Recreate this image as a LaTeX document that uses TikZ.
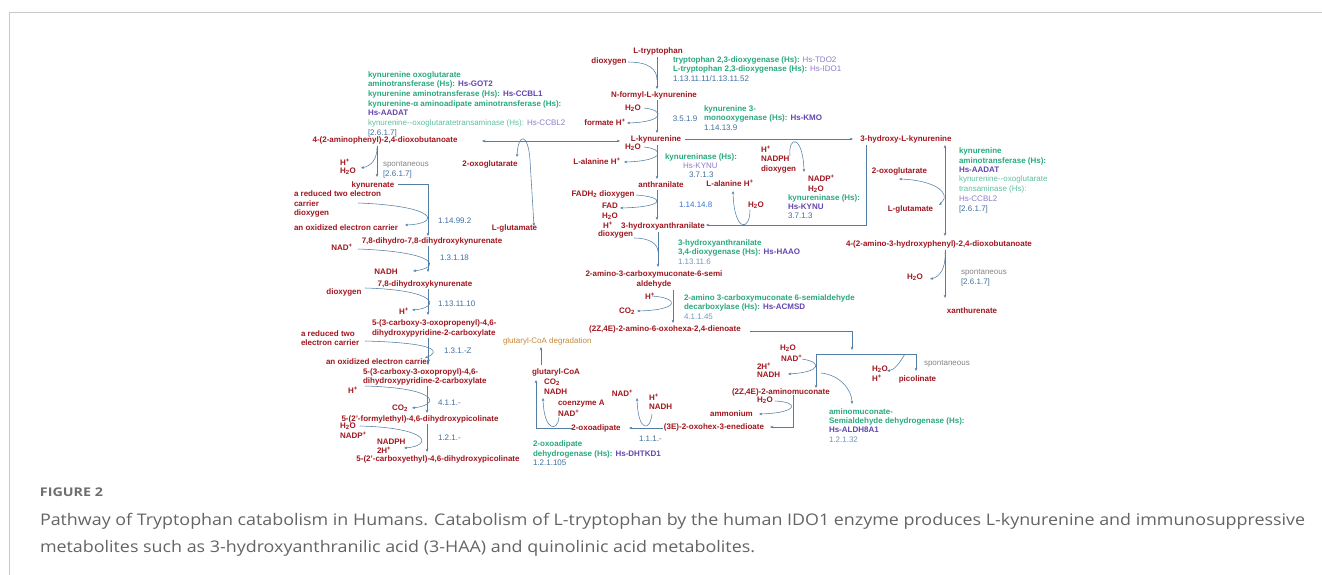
\documentclass[tikz,border=0pt]{standalone}
\usepackage{fontspec}
\usepackage{graphicx}
\setmainfont{Liberation Sans}
\newfontfamily\capfont{Open Sans}
\usetikzlibrary{arrows.meta}
\definecolor{met}{RGB}{160,22,30}
\definecolor{enz}{RGB}{40,168,126}
\definecolor{enzl}{RGB}{95,192,158}
\definecolor{gene}{RGB}{98,68,176}
\definecolor{genel}{RGB}{142,122,204}
\definecolor{ec}{RGB}{62,110,160}
\definecolor{ecl}{RGB}{112,150,192}
\definecolor{ecb}{RGB}{52,112,220}
\definecolor{spg}{RGB}{132,132,132}
\definecolor{org}{RGB}{200,136,52}
\definecolor{lnc}{RGB}{82,126,166}
\definecolor{frame}{RGB}{200,200,200}
\definecolor{capg}{RGB}{100,100,100}
\definecolor{figg}{RGB}{110,110,110}
\newcommand\HtwoO{H\textsubscript{2}O}
\newcommand\Hplus{H\textsuperscript{+}}
\newcommand\NADplus{NAD\textsuperscript{+}}
\newcommand\NADPplus{NADP\textsuperscript{+}}
\newcommand\COtwo{CO\textsubscript{2}}
\tikzset{
  every node/.style={inner sep=0pt,outer sep=0pt},
  m/.style={text=met,font=\fontsize{8}{9.7}\selectfont\bfseries},
  e/.style={text=enz,font=\fontsize{8}{9.7}\selectfont\bfseries},
  el/.style={text=enzl,font=\fontsize{8}{9.7}\selectfont},
  g/.style={text=gene,font=\fontsize{8}{9.7}\selectfont\bfseries},
  gl/.style={text=genel,font=\fontsize{8}{9.7}\selectfont},
  ecn/.style={text=ec,font=\fontsize{8}{9.7}\selectfont},
  ecln/.style={text=ecl,font=\fontsize{8}{9.7}\selectfont},
  ecbn/.style={text=ecb,font=\fontsize{8}{9.7}\selectfont},
  sp/.style={text=spg,font=\fontsize{8}{9.7}\selectfont},
  og/.style={text=org,font=\fontsize{8}{9.7}\selectfont},
  arr/.style={draw=lnc,line width=0.55pt,-{Stealth[length=3.2pt,width=2.6pt]}},
  arrb/.style={draw=lnc,line width=0.55pt,{Stealth[length=3.2pt,width=2.6pt]}-{Stealth[length=3.2pt,width=2.6pt]}},
  ln/.style={draw=lnc,line width=0.55pt},
}
\begin{document}
\begin{tikzpicture}[x=1pt,y=-1pt]
\useasboundingbox (0,0) rectangle (1322,575);
\draw[frame,line width=0.9pt] (9.5,575) -- (9.5,12) -- (1322,12);

% ---------- central column ----------
\node[m] (trp) at (658,51) {L-tryptophan};
\node[m] (dioxA) at (609,61) {dioxygen};
\node[e,anchor=west] (tdo) at (673,60) {tryptophan 2,3-dioxygenase (Hs): \textcolor{genel}{\mdseries Hs-TDO2}};
\node[e,anchor=west] (ido) at (673,69) {L-tryptophan 2,3-dioxygenase (Hs): \textcolor{genel}{\mdseries Hs-IDO1}};
\node[ecn,anchor=west] (ec1) at (673,79) {1.13.11.11/1.13.11.52};
\node[m] (nfk) at (654,95) {N-formyl-L-kynurenine};
\node[m] (h2oA) at (633,108) {\HtwoO};
\node[m] (form) at (605,122) {formate \Hplus};
\node[ecn] (ec2) at (685,119) {3.5.1.9};
\node[e,anchor=west] (kmo1) at (704,109) {kynurenine 3-};
\node[e,anchor=west] (kmo2) at (704,118) {monooxygenase (Hs): \textcolor{gene}{Hs-KMO}};
\node[ecn,anchor=west] (ec3) at (704,128) {1.14.13.9};
\node[m] (lkyn) at (656,139) {L-kynurenine};
\node[m] (h2oB) at (633,147) {\HtwoO};
\node[m] (alaA) at (597,161) {L-alanine \Hplus};
\node[e,anchor=west] (kynu1) at (665,157) {kynureninase (Hs):};
\node[gl,anchor=west] (kynu1g) at (683,166) {Hs-KYNU};
\node[ecn,anchor=west] (ec4) at (689,175) {3.7.1.3};
\node[m] (anth) at (661,185) {anthranilate};
\node[m] (alaB) at (730,183) {L-alanine \Hplus};
\node[m,anchor=west] (hB) at (761,149) {\Hplus};
\node[m,anchor=west] (nadph) at (761,159) {NADPH};
\node[m,anchor=west] (dioxB) at (761,169) {dioxygen};
\node[m,anchor=west] (nadpB) at (808,178) {\NADPplus};
\node[m,anchor=west] (h2oC) at (808,189) {\HtwoO};
\node[e,anchor=west] (kynu2) at (788,198) {kynureninase (Hs):};
\node[g,anchor=west] (kynu2g) at (788,207) {Hs-KYNU};
\node[ecn,anchor=west] (ec5) at (788,216) {3.7.1.3};
\node[m] (fadh) at (603,194) {FADH\textsubscript{2} dioxygen};
\node[m,anchor=west] (fad) at (602,206) {FAD};
\node[m,anchor=west] (h2oD) at (602,216) {\HtwoO};
\node[m,anchor=west] (hD) at (603,225) {\Hplus};
\node[m,anchor=west] (dioxD) at (598,234) {dioxygen};
\node[ecbn,anchor=west] (ec6) at (679,205) {1.14.14.8};
\node[m,anchor=west] (h2oE) at (748,205) {\HtwoO};
\node[m] (haa) at (663,226) {3-hydroxyanthranilate};
\node[e,anchor=west] (haao1) at (678,243) {3-hydroxyanthranilate};
\node[e,anchor=west] (haao2) at (678,252) {3,4-dioxygenase (Hs): \textcolor{gene}{Hs-HAAO}};
\node[ecln,anchor=west] (ec7) at (678,262) {1.13.11.6};
\node[m] (acms1) at (654,274) {2-amino-3-carboxymuconate-6-semi};
\node[m] (acms2) at (654,284) {aldehyde};
\node[m,anchor=west] (hE) at (645,296) {\Hplus};
\node[m,anchor=west] (co2E) at (619,311) {\COtwo};
\node[e,anchor=west] (acmsd1) at (684,298) {2-amino 3-carboxymuconate 6-semialdehyde};
\node[e,anchor=west] (acmsd2) at (684,307) {decarboxylase (Hs): \textcolor{gene}{Hs-ACMSD}};
\node[ecln,anchor=west] (ec8) at (684,317) {4.1.1.45};
\node[m] (dien) at (665,329) {(2Z,4E)-2-amino-6-oxohexa-2,4-dienoate};

% ---------- right branch ----------
\node[m] (hk) at (906,139) {3-hydroxy-L-kynurenine};
\node[e,anchor=west] (aat1) at (959,151) {kynurenine};
\node[e,anchor=west] (aat2) at (959,161) {aminotransferase (Hs):};
\node[g,anchor=west] (aat3) at (959,170) {Hs-AADAT};
\node[el,anchor=west] (aat4) at (959,179) {kynurenine-{}-oxoglutarate};
\node[el,anchor=west] (aat5) at (959,189) {transaminase (Hs):};
\node[gl,anchor=west] (aat6) at (959,199) {Hs-CCBL2};
\node[ecn,anchor=west] (ec9) at (959,209) {[2.6.1.7]};
\node[m] (oxoR) at (899.5,171) {2-oxoglutarate};
\node[m] (gluR) at (910.5,209) {L-glutamate};
\node[m] (ahp) at (939,244) {4-(2-amino-3-hydroxyphenyl)-2,4-dioxobutanoate};
\node[m] (h2oR) at (915,277) {\HtwoO};
\node[sp,anchor=west] (spR) at (961,273) {spontaneous};
\node[ecn,anchor=west] (ec10) at (961,282) {[2.6.1.7]};
\node[m] (xan) at (972,311) {xanthurenate};

% ---------- lower branch ----------
\node[m,anchor=west] (h2oF) at (780,348) {\HtwoO};
\node[m,anchor=west] (nadF) at (781,358) {\NADplus};
\node[m,anchor=west] (h2G) at (757,366) {2\Hplus};
\node[m,anchor=west] (nadhG) at (757,375) {NADH};
\node[m,anchor=west] (amu) at (732,392) {(2Z,4E)-2-aminomuconate};
\node[m,anchor=west] (h2oH) at (757,400) {\HtwoO};
\node[m] (amm) at (731.5,414) {ammonium};
\node[m] (ened) at (714,427) {(3E)-2-oxohex-3-enedioate};
\node[m] (nadI) at (622.5,393) {\NADplus};
\node[m,anchor=west] (hI) at (649,397) {\Hplus};
\node[m,anchor=west] (nadhI) at (649,407) {NADH};
\node[ecn,anchor=west] (ec11) at (639,439) {1.1.1.-};
\node[m] (oxad) at (596,428) {2-oxoadipate};
\node[m,anchor=west] (co2J) at (544,382) {\COtwo};
\node[m,anchor=west] (nadhJ) at (544,392) {NADH};
\node[m,anchor=west] (coa) at (558,404) {coenzyme A};
\node[m,anchor=west] (nadJ) at (558,413) {\NADplus};
\node[m] (gcoa) at (556,372) {glutaryl-CoA};
\node[og,anchor=west] (gdeg) at (503,341) {glutaryl-CoA degradation};
\node[e,anchor=west] (dht1) at (533,444) {2-oxoadipate};
\node[e,anchor=west] (dht2) at (533,454) {dehydrogenase (Hs): \textcolor{gene}{Hs-DHTKD1}};
\node[ecn,anchor=west] (ec12) at (533,463) {1.2.1.105};
\node[m,anchor=west] (h2oK) at (872,369) {\HtwoO};
\node[m,anchor=west] (hK) at (872,378) {\Hplus};
\node[m] (pic) at (917.5,379) {picolinate};
\node[sp,anchor=west] (spK) at (924,364) {spontaneous};
\node[e,anchor=west] (ald1) at (829,412) {aminomuconate-};
\node[e,anchor=west] (ald2) at (829,421) {Semialdehyde dehydrogenase (Hs):};
\node[g,anchor=west] (ald3) at (829,430) {Hs-ALDH8A1};
\node[ecln,anchor=west] (ec13) at (829,440) {1.2.1.32};

% ---------- left branch ----------
\node[e,anchor=west] (kat1) at (368,75) {kynurenine oxoglutarate};
\node[e,anchor=west] (kat2) at (368,84) {aminotransferase (Hs): \textcolor{gene}{Hs-GOT2}};
\node[e,anchor=west] (kat3) at (368,94) {kynurenine aminotransferase (Hs): \textcolor{gene}{Hs-CCBL1}};
\node[e,anchor=west] (kat4) at (368,104) {kynurenine-α aminoadipate aminotransferase (Hs):};
\node[g,anchor=west] (kat5) at (368,113) {Hs-AADAT};
\node[el,anchor=west] (kat6) at (368,123) {kynurenine-{}-oxoglutaratetransaminase (Hs): \textcolor{genel}{Hs-CCBL2}};
\node[ecn,anchor=west] (ec14) at (368,133) {[2.6.1.7]};
\node[m] (aph) at (385,140) {4-(2-aminophenyl)-2,4-dioxobutanoate};
\node[m,anchor=west] (hL) at (340,162) {\Hplus};
\node[m,anchor=west] (h2oL) at (340,171) {\HtwoO};
\node[sp,anchor=west] (spL) at (383,165) {spontaneous};
\node[ecn,anchor=west] (ec15) at (383,174) {[2.6.1.7]};
\node[m] (oxoL) at (490,164) {2-oxoglutarate};
\node[m] (gluL) at (514.5,228) {L-glutamate};
\node[m] (kyna) at (373,185) {kynurenate};
\node[m,anchor=west] (red1) at (294,194) {a reduced two electron};
\node[m,anchor=west] (red2) at (294,204) {carrier};
\node[m,anchor=west] (red3) at (294,213) {dioxygen};
\node[m,anchor=west] (oxc1) at (294,228) {an oxidized electron carrier};
\node[ecn,anchor=west] (ec16) at (438,221) {1.14.99.2};
\node[m] (dhd) at (432,241) {7,8-dihydro-7,8-dihydroxykynurenate};
\node[m] (nadL) at (342,247) {\NADplus};
\node[ecn,anchor=west] (ec17) at (440,258) {1.3.1.18};
\node[m] (nadhL) at (386,272) {NADH};
\node[m] (dhk) at (425,284) {7,8-dihydroxykynurenate};
\node[m] (dioxL) at (344,292) {dioxygen};
\node[ecn,anchor=west] (ec18) at (438,304) {1.13.11.10};
\node[m,anchor=west] (hL2) at (399,311) {\Hplus};
\node[m,anchor=west] (cop1) at (372,323) {5-(3-carboxy-3-oxopropenyl)-4,6-};
\node[m,anchor=west] (cop2) at (372,333) {dihydroxypyridine-2-carboxylate};
\node[m,anchor=west] (red4) at (301,334) {a reduced two};
\node[m,anchor=west] (red5) at (301,343) {electron carrier};
\node[ecn,anchor=west] (ec19) at (444,351) {1.3.1.-Z};
\node[m,anchor=west] (oxc2) at (326,362) {an oxidized electron carrier};
\node[m,anchor=west] (cpp1) at (363,372) {5-(3-carboxy-3-oxopropyl)-4,6-};
\node[m,anchor=west] (cpp2) at (363,381) {dihydroxypyridine-2-carboxylate};
\node[m,anchor=west] (hL3) at (348,390) {\Hplus};
\node[m,anchor=west] (co2L) at (392,408) {\COtwo};
\node[ecn,anchor=west] (ec20) at (438,403) {4.1.1.-};
\node[m] (fep) at (420,419) {5-(2'-formylethyl)-4,6-dihydroxypicolinate};
\node[m,anchor=west] (h2oL2) at (340,426) {\HtwoO};
\node[m,anchor=west] (nadpL) at (340,435) {\NADPplus};
\node[m,anchor=west] (nadphL) at (377,442) {NADPH};
\node[m,anchor=west] (h2L) at (377,450) {2\Hplus};
\node[ecn,anchor=west] (ec21) at (438,438) {1.2.1.-};
\node[m] (cep) at (438,459) {5-(2'-carboxyethyl)-4,6-dihydroxypicolinate};

% ---------- connectors: central ----------
\draw[arr] (657,57) -- (657,89);
\draw[ln] (628,62) .. controls (650,62) and (657,70) .. (657,80);
\draw[arr] (657,100) -- (657,133);
\draw[arr] (644,108) .. controls (665,110) and (665,122) .. (627,123);
\draw[arr] (657,145) -- (657,179);
\draw[arr] (644,147) .. controls (665,149) and (665,161) .. (624,162);
\draw[arr] (657,190) -- (657,220);
\draw[arr] (636,195) .. controls (666,197) and (666,207) .. (620,208);
\draw[arr] (658,232) -- (658,267);
\draw[ln] (634,238) .. controls (650,238) and (658,244) .. (658,252);
\draw[arr] (673,290) -- (673,323);
\draw[arr] (652,296) .. controls (680,298) and (680,310) .. (637,311);
\draw[arrb] (620,141) -- (482,141);
\draw[arr] (685,139) -- (853,139);
\draw[arr] (790,156) .. controls (788,135) and (803,135) .. (804,172);
\draw[arr] (866,145) -- (866,225) -- (706,225);
\draw[arr] (750,210) .. controls (750,232) and (734,232) .. (733,191);

% ---------- connectors: right ----------
\draw[arrb] (945,145) -- (945,236);
\draw[arrb] (899,179) .. controls (930,180) and (947,190) .. (944,199) .. controls (943,202) .. (939,205);
\draw[arr] (945,250) -- (945,298);
\draw[arr] (945,252) .. controls (946,268) and (940,277) .. (930,279);

% ---------- connectors: lower ----------
\draw[arr] (750,331) -- (852,331) -- (852,350);
\draw[ln] (816,354) -- (916,354);
\draw[arr] (816,354) -- (816,388);
\draw[arr] (916,354) -- (916,371);
\draw[arr] (905,354) .. controls (900,362) and (895,370) .. (887,371);
\draw[arr] (802,359) .. controls (822,362) and (822,372) .. (788,374);
\draw[arr] (821,373) .. controls (840,375) and (852,390) .. (852,404);
\draw[arr] (793,395) -- (793,427) -- (770,427);
\draw[arr] (775,401) .. controls (800,402) and (798,413) .. (759,414);
\draw[arr] (663,428) -- (629,428);
\draw[arr] (652,414) .. controls (650,432) and (638,432) .. (637,398);
\draw[arr] (572,428) -- (536,428) -- (536,380);
\draw[arr] (559,417) .. controls (558,432) and (544,432) .. (543,398);
\draw[arr] (541,365) -- (541,347);

% ---------- connectors: left ----------
\draw[arr] (377,146) -- (377,177);
\draw[arr] (377,148) .. controls (377,158) and (372,166) .. (361,168);
\draw[arrb] (517,157) .. controls (518,133) and (528,132) .. (530,160) -- (534,226);
\draw[arr] (398,184) -- (428,184) -- (428,236);
\draw[arr] (358,203) .. controls (440,206) and (440,224) .. (405,225);
\draw[arr] (428,246) -- (428,272);
\draw[arr] (358,249) .. controls (440,252) and (440,268) .. (413,271);
\draw[arr] (428,289) -- (428,315);
\draw[arr] (365,288) .. controls (440,290) and (440,308) .. (412,310);
\draw[arr] (428,338) -- (428,365);
\draw[arr] (365,341) .. controls (440,343) and (440,352) .. (425,358);
\draw[arr] (427,386) -- (427,413);
\draw[arr] (365,386) .. controls (440,388) and (440,405) .. (412,408);
\draw[arr] (427,424) -- (427,452);
\draw[arr] (360,426) .. controls (432,428) and (432,446) .. (404,448);

% ---------- caption ----------
\node[anchor=west,text=figg,font=\capfont\bfseries\fontsize{12}{12}\selectfont] (fig) at (40,492) {\resizebox{63pt}{\height}{FIGURE 2}};
\node[anchor=west,text=capg,font=\capfont\fontsize{16}{16}\selectfont] (cap1) at (40,521) {\resizebox{1265pt}{\height}{Pathway of Tryptophan catabolism in Humans. Catabolism of L-tryptophan by the human IDO1 enzyme produces L-kynurenine and immunosuppressive}};
\node[anchor=west,text=capg,font=\capfont\fontsize{16}{16}\selectfont] (cap2) at (40,548) {\resizebox{715pt}{\height}{metabolites such as 3-hydroxyanthranilic acid (3-HAA) and quinolinic acid metabolites.}};
\end{tikzpicture}
\end{document}
